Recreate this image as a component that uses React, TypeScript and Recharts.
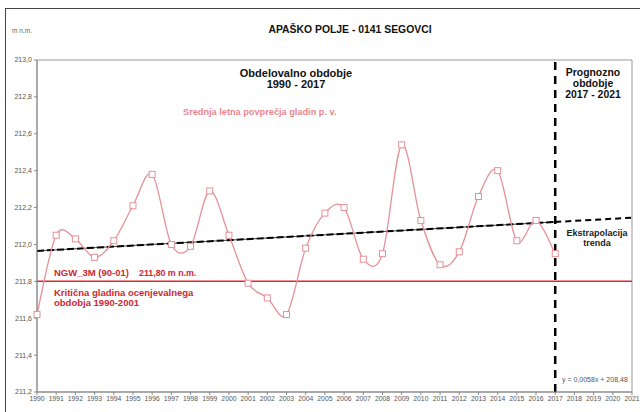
import React from 'react';
import { LineChart, Line, XAxis, YAxis, ReferenceLine, ReferenceArea } from 'recharts';

const years = [1990, 1991, 1992, 1993, 1994, 1995, 1996, 1997, 1998, 1999, 2000, 2001, 2002, 2003, 2004,
  2005, 2006, 2007, 2008, 2009, 2010, 2011, 2012, 2013, 2014, 2015, 2016, 2017];
const levels = [211.62, 212.05, 212.03, 211.93, 212.02, 212.21, 212.38, 212.0, 211.99, 212.29, 212.05, 211.79,
  211.71, 211.62, 211.98, 212.17, 212.2, 211.92, 211.95, 212.54, 212.13, 211.89, 211.96, 212.26, 212.4,
  212.02, 212.13, 211.95];

const trendYears = [1990, 2017];
const trendValues = [211.965, 212.122];
const forecastYears = [2017, 2021];
const forecastValues = [212.122, 212.145];

const xTicks = [1990, 1991, 1992, 1993, 1994, 1995, 1996, 1997, 1998, 1999, 2000, 2001, 2002, 2003, 2004, 2005,
  2006, 2007, 2008, 2009, 2010, 2011, 2012, 2013, 2014, 2015, 2016, 2017, 2018, 2019, 2020, 2021];
const yTicks = [211.2, 211.4, 211.6, 211.8, 212.0, 212.2, 212.4, 212.6, 212.8, 213.0];
const criticalLevel = 211.8;
const splitYear = 2017;

const data = years.map((y, i) => ({ year: y, level: levels[i] }));
const trendData = trendYears.map((y, i) => ({ year: y, trend: trendValues[i] }));
const forecastData = forecastYears.map((y, i) => ({ year: y, trend: forecastValues[i] }));

// excel-like smoothed line (catmull-rom through the points)
const excelSmooth = (context: any) => {
  let pts: number[][] = [];
  return {
    areaStart() {},
    areaEnd() {},
    lineStart() { pts = []; },
    point(x: number, y: number) { pts.push([+x, +y]); },
    lineEnd() {
      if (!pts.length) return;
      context.moveTo(pts[0][0], pts[0][1]);
      for (let i = 0; i < pts.length - 1; i++) {
        const p0 = pts[i - 1] || pts[i];
        const p1 = pts[i];
        const p2 = pts[i + 1];
        const p3 = pts[i + 2] || p2;
        context.bezierCurveTo(
          p1[0] + (p2[0] - p0[0]) / 6, p1[1] + (p2[1] - p0[1]) / 6,
          p2[0] - (p3[0] - p1[0]) / 6, p2[1] - (p3[1] - p1[1]) / 6,
          p2[0], p2[1]
        );
      }
    },
  };
};

const SquareDot = (props: any) => {
  const { cx, cy, index } = props;
  if (cx == null || cy == null) return null;
  return <rect key={`d${index}`} x={cx - 3} y={cy - 3} width={6} height={6} fill="#fff" stroke="#e69097" strokeWidth={1} />;
};

const font = '"Liberation Sans", Arial, sans-serif';
const fmt = (v: number) => v.toFixed(1).replace('.', ',');

const label = (style: React.CSSProperties, text: React.ReactNode) => (
  <div style={{ position: 'absolute', fontFamily: font, whiteSpace: 'nowrap', lineHeight: 1.1, ...style }}>{text}</div>
);

export default function App() {
  return (
    <div style={{ position: 'absolute', left: 0, top: 0, width: 640, height: 412, background: '#fff', overflow: 'hidden' }}>
      <div style={{ position: 'absolute', left: 5, top: 8, width: 700, height: 500, borderLeft: '1.5px solid #444', borderTop: '1.5px solid #444' }} />
      <LineChart width={640} height={412} margin={{ top: 60, right: 8, bottom: 6, left: 0 }} style={{ position: 'absolute', left: 0, top: 0 }}>
        <XAxis
          dataKey="year"
          type="number"
          domain={[1990, 2021]}
          ticks={xTicks}
          interval={0}
          height={14}
          allowDuplicatedCategory={false}
          stroke="#888"
          tickSize={3}
          tick={{ fontSize: 6.8, fill: '#555', fontFamily: font }}
          tickMargin={1}
        />
        <YAxis
          type="number"
          domain={[211.2, 213]}
          ticks={yTicks}
          width={37}
          interval={0}
          stroke="#888"
          tickSize={3}
          tickFormatter={fmt}
          tick={{ fontSize: 7, fill: '#555', fontFamily: font }}
        />
        <ReferenceArea x1={1990} x2={2021} y1={211.2} y2={213} fill="none" stroke="#999" strokeWidth={1} ifOverflow="visible" />
        <ReferenceLine y={criticalLevel} stroke="#e2262c" strokeWidth={1.5} />
        <Line data={trendData} dataKey="trend" type="linear" stroke="#444" strokeWidth={1} dot={false} isAnimationActive={false} />
        <Line data={trendData} dataKey="trend" type="linear" stroke="#000" strokeWidth={2} strokeDasharray="7 3" dot={false} isAnimationActive={false} />
        <Line data={forecastData} dataKey="trend" type="linear" stroke="#000" strokeWidth={2} strokeDasharray="6 4" dot={false} isAnimationActive={false} />
        <Line
          data={data}
          dataKey="level"
          type={excelSmooth as any}
          stroke="#e69097"
          strokeWidth={1.3}
          dot={SquareDot}
          activeDot={false}
          isAnimationActive={false}
        />
        <ReferenceLine x={splitYear} stroke="#000" strokeWidth={2.5} strokeDasharray="8 6" />
      </LineChart>

      {label({ left: 12, top: 27, fontSize: 6.5, color: '#666' }, 'm n.m.')}
      {label({ left: 350, top: 24, transform: 'translateX(-50%)', fontSize: 10.4, fontWeight: 700, color: '#111' }, 'APAŠKO POLJE - 0141 SEGOVCI')}
      {label({ left: 296, top: 68, transform: 'translateX(-50%)', fontSize: 11, fontWeight: 700, color: '#111', textAlign: 'center', lineHeight: 1.0 }, <>Obdelovalno obdobje<br />1990 - 2017</>)}
      {label({ left: 183, top: 107, fontSize: 9.2, fontWeight: 700, color: '#e8878f' }, 'Srednja letna povprečja gladin  p. v.')}
      {label({ left: 54, top: 268, fontSize: 9.5, fontWeight: 700, color: '#d1262f' }, 'NGW_3M (90-01)')}
      {label({ left: 139, top: 269, fontSize: 8.8, fontWeight: 700, color: '#d1262f' }, '211,80 m n.m.')}
      {label({ left: 54, top: 288, fontSize: 9.5, fontWeight: 700, color: '#d1262f' }, <>Kritična gladina ocenjevalnega<br />obdobja 1990-2001</>)}
      {label({ left: 593, top: 68, transform: 'translateX(-50%)', fontSize: 10.4, fontWeight: 700, color: '#111', textAlign: 'center', lineHeight: 1.05 }, <>Prognozno<br />obdobje<br />2017 - 2021</>)}
      {label({ left: 597, top: 229, transform: 'translateX(-50%)', fontSize: 9, fontWeight: 700, color: '#222', textAlign: 'center' }, <>Ekstrapolacija<br />trenda</>)}
      {label({ left: 562, top: 376, fontSize: 7, color: '#555' }, 'y = 0,0058x + 208,48')}
    </div>
  );
}
